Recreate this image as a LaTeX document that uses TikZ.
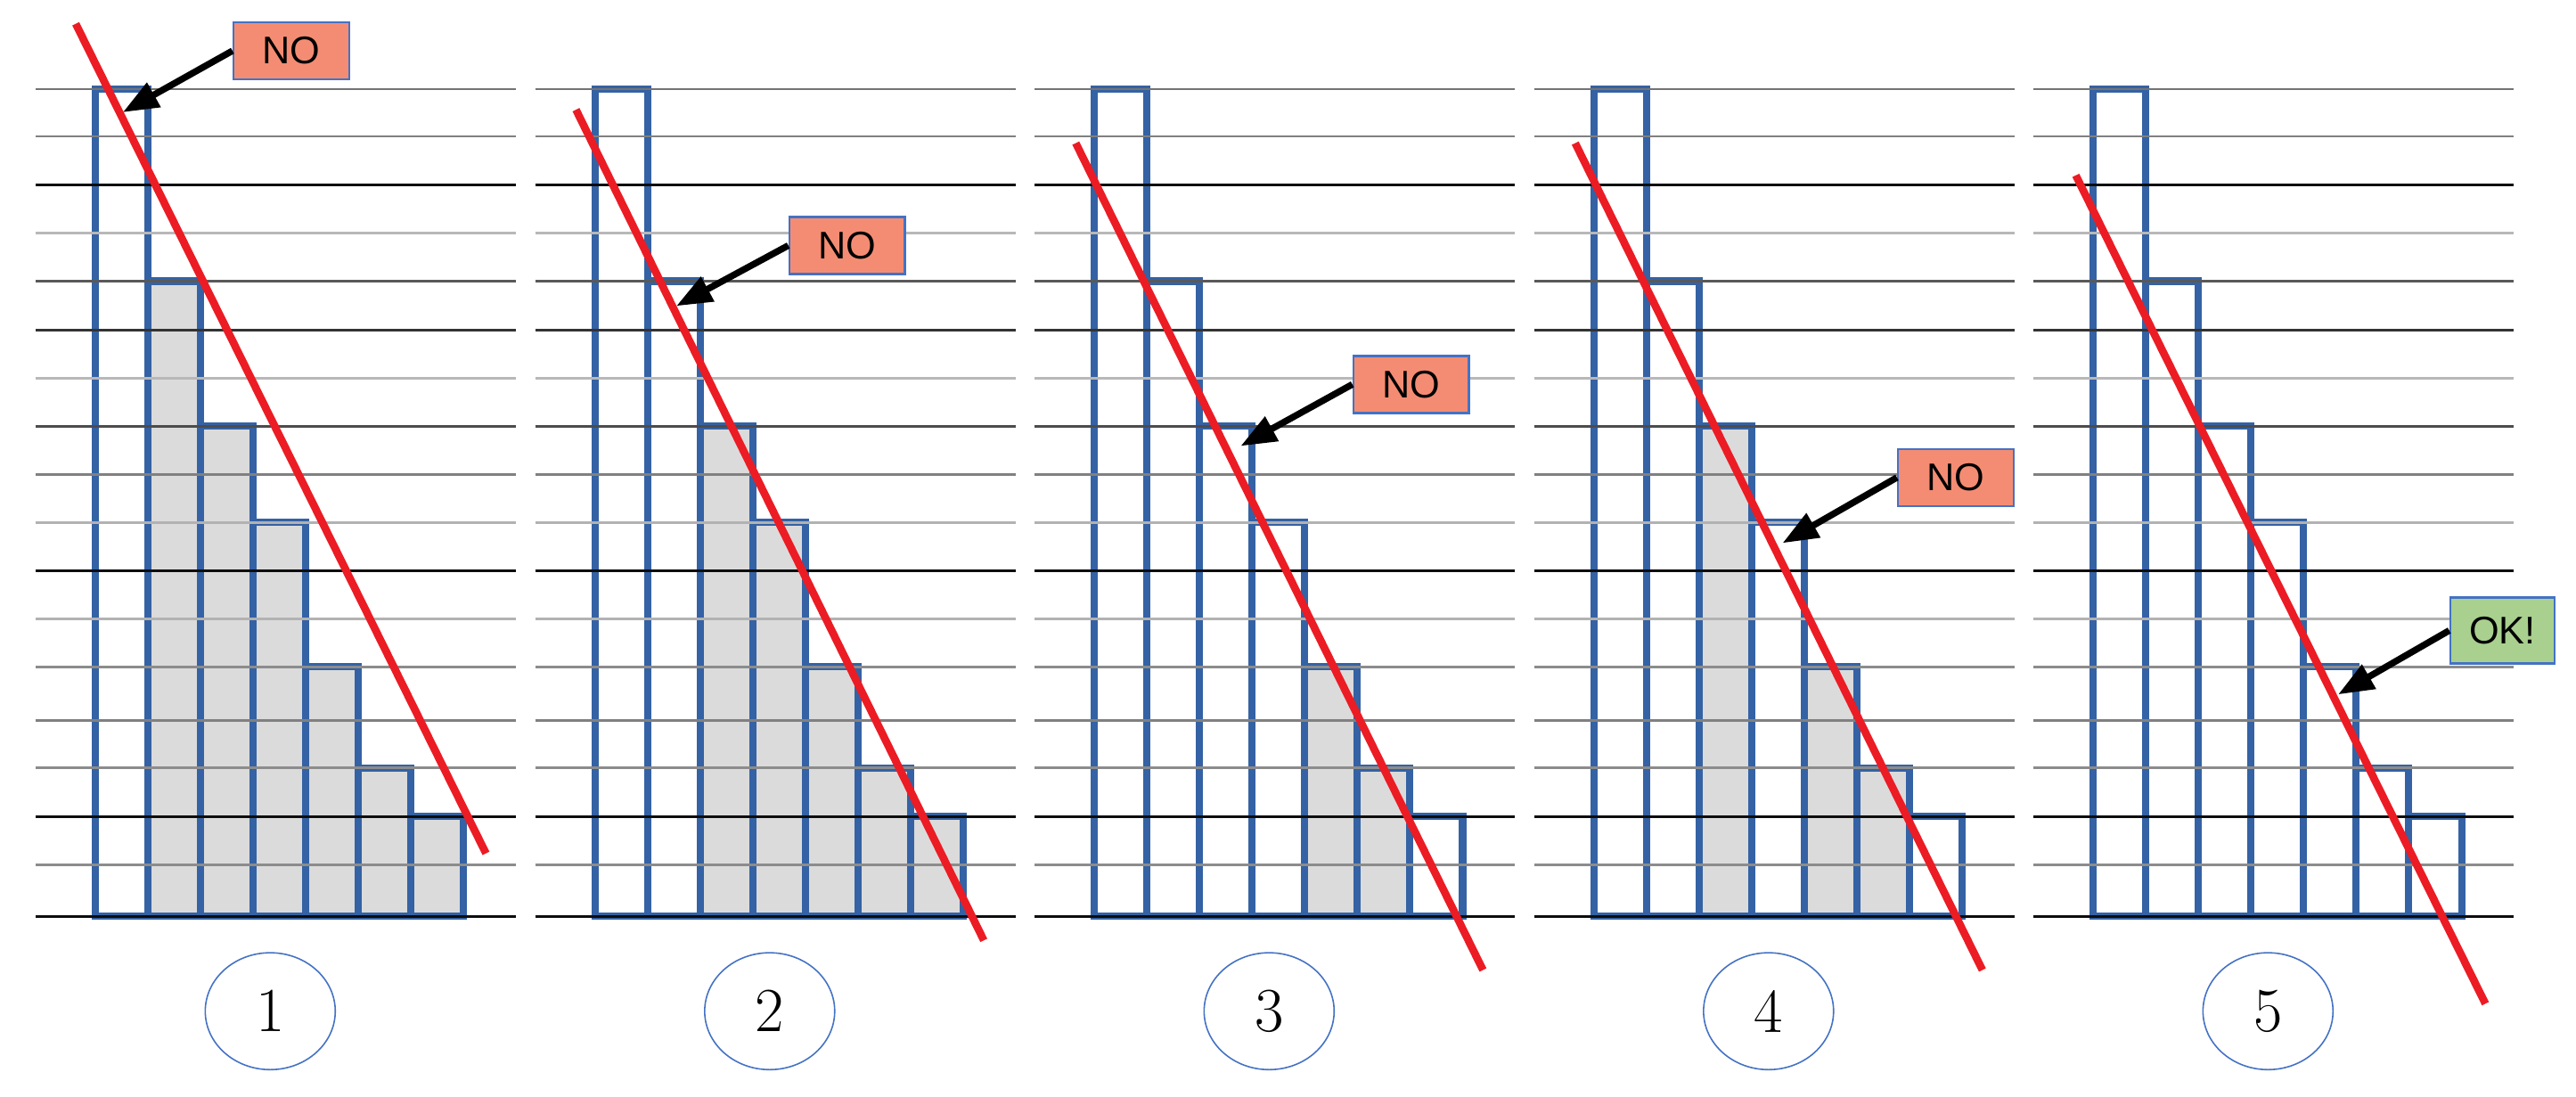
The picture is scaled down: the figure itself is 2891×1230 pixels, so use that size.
\documentclass[tikz,border=0pt]{standalone}
\usepackage{fontspec}
\newfontfamily\boxfont{Liberation Sans}
\usetikzlibrary{arrows.meta,shapes.geometric}
\definecolor{barblue}{RGB}{52,98,164}
\definecolor{redline}{RGB}{236,28,36}
\definecolor{shadegray}{RGB}{219,219,219}
\definecolor{nofill}{RGB}{244,140,115}
\definecolor{okfill}{RGB}{169,208,142}
\definecolor{boxedge}{RGB}{68,114,196}
\definecolor{ellblue}{RGB}{68,114,196}
\tikzset{
  gridline/.style={line width=0.85pt},
  barbox/.style={draw=barblue,line width=2.28pt,line join=miter},
  shadebox/.style={fill=shadegray},
  redcut/.style={draw=redline,line width=2.45pt},
  callout/.style={draw=black,line width=2.1pt,-{Triangle[length=11.4pt,width=8.5pt]}},
  nobox/.style={draw=boxedge,line width=0.7pt,fill=nofill,minimum width=36.9pt,minimum height=18.2pt,inner sep=0pt,font=\boxfont\fontsize{12.3}{14}\selectfont},
  okbox/.style={draw=boxedge,line width=0.7pt,fill=okfill,minimum width=33.3pt,minimum height=21pt,inner sep=0pt,font=\boxfont\fontsize{12.3}{14}\selectfont},
  numcirc/.style={draw=ellblue,line width=0.45pt,ellipse,minimum width=41.5pt,minimum height=37.3pt,inner sep=0pt,font=\fontsize{20}{24}\selectfont}
}
\begin{document}
\begin{tikzpicture}[x=0.01cm,y=-0.01cm]
\useasboundingbox (0,0) rectangle (2891,1230);
\fill[white] (0,0) rectangle (2891,1230);

% panels
\foreach \k/\shaded in {0/{2,3,4,5,6,7},1/{3,4,5,6,7},2/{5,6},3/{3,5,6},4/{}}{
  \begin{scope}[shift={(\k*560.5,0)}]
    % shading
    \foreach \i/\t in {1/100,2/315.5,3/478,4/586,5/748,6/861.5,7/916}{
      \foreach \s in \shaded {
        \ifnum\s=\i
          \fill[shadegray] ({107.2+(\i-1)*59.04},\t) rectangle ({107.2+\i*59.04},1028);
        \fi
      }
    }
    % bars
    \foreach \i/\t in {1/100,2/315.5,3/478,4/586,5/748,6/861.5,7/916}{
      \draw[barbox] ({107.2+(\i-1)*59.04},\t) rectangle ({107.2+\i*59.04},1028);
    }
    % grid lines
    \foreach \yy/\g in {100/55,153/50,207.5/95,261.5/28,315.5/65,370/80,424/28,478/70,532.5/50,586/30,640/95,694.5/30,748/45,808/50,861.5/45,916/95,970.5/45,1028/95}{
      \draw[gridline,draw=black!\g] (40,\yy) -- (579,\yy);
    }
  \end{scope}
}

% red cut lines
\draw[redcut] (85,26.7) -- (545.4,957.6);
\draw[redcut] (646.4,123.1) -- (1104.1,1055.2);
\draw[redcut] (1207.3,160.6) -- (1664.3,1088.5);
\draw[redcut] (1767.8,160.6) -- (2224.8,1088.5);
\draw[redcut] (2329.6,196.8) -- (2789.3,1126.3);

% callouts
\coordinate (t1) at (137.8,126);
\coordinate (t2) at (759,343.4);
\coordinate (t3) at (1392.4,500.5);
\coordinate (t4) at (2000.5,609.4);
\coordinate (t5) at (2624,779.3);
\node[nobox] (n1) at (327,57) {NO};
\node[nobox] (n2) at (950.8,275.5) {NO};
\node[nobox] (n3) at (1583.8,431.3) {NO};
\node[nobox] (n4) at (2195,535.8) {NO};
\node[okbox] (n5) at (2808.5,707.5) {OK!};
\draw[callout] (n1.west) -- (t1);
\draw[callout] (n2.west) -- (t2);
\draw[callout] (n3.west) -- (t3);
\draw[callout] (n4.west) -- (t4);
\draw[callout] (n5.west) -- (t5);

% numbered ellipses
\foreach \k in {1,...,5}{
  \node[numcirc] (c\k) at ({303.3+(\k-1)*560.5},1134.7) {\k};
}
\end{tikzpicture}
\end{document}
